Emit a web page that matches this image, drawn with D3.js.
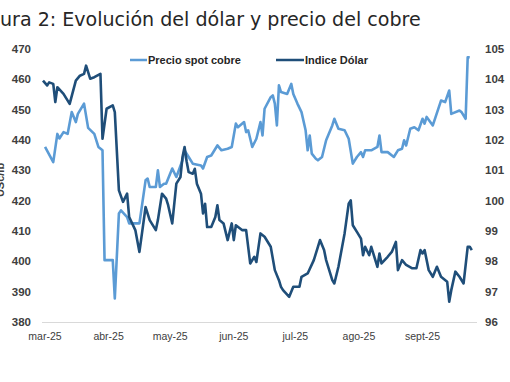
<!DOCTYPE html>
<html><head><meta charset="utf-8">
<script src="https://cdn.jsdelivr.net/npm/d3@7"></script>
<style>html,body{margin:0;padding:0;background:#fff;overflow:hidden}</style>
</head><body>
<svg id="c" width="510" height="382"></svg>
<script>
const titleText = "Figura 2: Evolución del dólar y precio del cobre";
const seriesNames = ["Precio spot cobre", "Indice Dólar"];
const monthTicks = ["2025-03-01","2025-04-01","2025-05-01","2025-06-01","2025-07-01","2025-08-01","2025-09-01"];
const monthLabels = ["mar-25","abr-25","may-25","jun-25","jul-25","ago-25","sept-25"];
const leftTicks = [380,390,400,410,420,430,440,450,460,470];
const rightTicks = [96,97,98,99,100,101,102,103,104,105];

const copperDates = ["03-02","03-06","03-08","03-09","03-11","03-13","03-15","03-17","03-18","03-21","03-23","03-26","03-28","03-30","03-31",
"04-04","04-05","04-07","04-08","04-11","04-12","04-17","04-20","04-21","04-22","04-25","04-26","04-27","04-29","04-30",
"05-03","05-05","05-08","05-09","05-11","05-13","05-17","05-18","05-20","05-22","05-25","05-27","05-30",
"06-01","06-03","06-04","06-07","06-08","06-09","06-11","06-13","06-15","06-16","06-17","06-20","06-21","06-22","06-23","06-24","06-25","06-28","06-30",
"07-01","07-03","07-05","07-07","07-08","07-09","07-10","07-12","07-13","07-15","07-17","07-20","07-21","07-23","07-26","07-28","07-30",
"08-01","08-03","08-04","08-05","08-08","08-11","08-12","08-13","08-16","08-19","08-21","08-23","08-24","08-25","08-27","08-29","08-31",
"09-02","09-03","09-04","09-07","09-11","09-13","09-15","09-16","09-20","09-21","09-23","09-24","09-25"];
const copperValues = [437.7,432.7,442,440.5,442.6,442,449.2,445.9,448.6,452,444,442,437.7,436.6,400.4,
400.4,387.8,415.8,416.8,414.6,412.5,412.5,426.7,427.3,424.5,424.5,430,424.5,425.6,425.6,
430.6,427.8,433.3,436.6,434.4,432.2,431.6,430.6,434.4,434.9,438.2,436.6,437.1,
437.7,445.4,444.2,445.9,442.6,443.2,437.7,440.4,445.9,441.5,450.3,454.1,454.7,452,444.8,458,455.8,455.2,458.5,
455.2,452,449.2,443.2,436.6,441.5,435.5,433.8,433.3,434.4,439.9,444.8,447,443.7,443.2,440.4,432.2,
434.4,436,434.4,436.6,436.6,437.7,441.5,436,436,434.4,436.6,437.1,439.9,438.2,443.7,444.2,443.2,
447,445.4,447.6,444.8,453,452.5,456.3,448.6,449.7,449.2,447,467.3,467.3];

const dollarDates = ["03-01","03-03","03-04","03-06","03-07","03-08","03-11","03-14","03-17","03-19","03-21","03-22","03-24","03-26","03-29","03-30",
"04-01","04-04","04-05","04-07","04-09","04-11","04-12","04-15","04-17","04-20","04-22","04-25","04-26","04-28","04-30",
"05-01","05-03","05-05","05-07","05-08","05-09","05-10","05-11","05-13","05-14","05-15","05-17","05-18","05-19","05-20","05-22","05-24","05-25","05-26","05-28","05-30",
"06-01","06-02","06-03","06-06","06-08","06-10","06-12","06-13","06-15","06-17","06-20","06-22","06-24","06-25","06-26","06-29",
"07-01","07-04","07-05","07-08","07-11","07-13","07-14","07-16","07-17","07-20","07-21","07-23","07-26","07-28","07-29","07-30",
"08-01","08-03","08-04","08-05","08-07","08-08","08-11","08-12","08-13","08-16","08-18","08-20","08-21","08-23","08-25","08-28","08-30",
"09-01","09-02","09-03","09-05","09-07","09-09","09-11","09-14","09-15","09-16","09-18","09-20","09-22","09-24","09-25","09-26"];
const dollarValues = [103.96,103.8,103.9,103.85,103.25,103.74,103.52,103.19,103.96,104.12,104.18,104.45,104.02,104.07,104.18,102.04,
103.03,103.14,102.92,100.34,99.96,100.23,99.46,99.03,98.31,99.79,99.36,99.03,99.36,100.23,100.07,
99.85,99.25,100.56,100.78,101.44,101.77,101.3,100.94,100.89,101.05,100.56,100.23,99.58,99.9,99.13,99.13,99.46,99.85,99.36,99.25,98.7,
99.25,98.7,99.19,99.03,99.03,97.93,98.15,97.98,98.92,98.81,98.48,97.71,97.38,97.16,97.05,96.83,
97.16,97.16,97.49,97.6,98.04,98.48,98.7,98.37,98.04,97.38,97.27,97.82,98.92,99.9,100.01,99.19,
98.97,98.75,98.2,98.48,98.2,98.48,97.82,98.26,97.93,98.15,98.31,98.64,97.71,98.04,97.88,97.77,97.77,
98.37,98.26,98.37,97.71,97.49,97.82,97.49,97.33,96.67,97.05,97.66,97.49,97.27,98.48,98.48,98.37];

const colors = ["#5b9bd5", "#1f4e79"];
const parse = d3.timeParse("%Y-%m-%d");
const svg = d3.select("#c");

const x = d3.scaleTime().domain([parse("2025-03-01"), parse("2025-09-30")]).range([43, 480]);
const yL = d3.scaleLinear().domain([380, 470]).range([322, 49]);
const yR = d3.scaleLinear().domain([96, 105]).range([322, 49]);

// title (cut at left edge like the reference)
const tt = svg.append("text").attr("y", 26).attr("font-family", "DejaVu Sans").attr("font-size", 17).attr("fill", "#262626").text(titleText);
const probe = svg.append("text").attr("font-family", "DejaVu Sans").attr("font-size", 17).text("Fig");
const full = tt.node().getComputedTextLength();
const fig = probe.node().getComputedTextLength();
const fs = 17 * 421 / (full - fig);
tt.attr("font-size", fs);
probe.attr("font-size", fs);
const off = probe.node().getComputedTextLength();
probe.remove();
tt.attr("x", -off);

// baseline
svg.append("line").attr("x1", 42).attr("x2", 477).attr("y1", 322.5).attr("y2", 322.5).attr("stroke", "#d9d9d9").attr("stroke-width", 1);

// left axis labels
svg.append("g").selectAll("text").data(leftTicks).join("text")
  .attr("x", 31).attr("y", d => yL(d)).attr("dy", "0.35em").attr("text-anchor", "end")
  .attr("font-family", "Liberation Sans").attr("font-weight", "bold").attr("font-size", 11.5).attr("fill", "#404040")
  .text(d => d);
// right axis labels
svg.append("g").selectAll("text").data(rightTicks).join("text")
  .attr("x", 485).attr("y", d => yR(d)).attr("dy", "0.35em").attr("text-anchor", "start")
  .attr("font-family", "Liberation Sans").attr("font-weight", "bold").attr("font-size", 11.5).attr("fill", "#404040")
  .text(d => d);
// x labels
svg.append("g").selectAll("text").data(monthTicks).join("text")
  .attr("x", d => x(parse(d)) + 2).attr("y", 340).attr("text-anchor", "middle")
  .attr("font-family", "Liberation Sans").attr("font-size", 10.5).attr("fill", "#404040")
  .text((d, i) => monthLabels[i]);

// rotated axis title, mostly cut at the left edge as in the reference
svg.append("text").attr("transform", "translate(4,180) rotate(-90)").attr("text-anchor", "middle")
  .attr("font-family", "Liberation Sans").attr("font-weight", "bold").attr("font-size", 11).attr("fill", "#404040")
  .text("USc/lb");

// lines
const copper = copperDates.map((d, i) => ({ date: parse("2025-" + d), v: copperValues[i] }));
const dollar = dollarDates.map((d, i) => ({ date: parse("2025-" + d), v: dollarValues[i] }));
svg.append("path").datum(copper).attr("fill", "none").attr("stroke", colors[0]).attr("stroke-width", 2.6).attr("stroke-linejoin", "round")
  .attr("d", d3.line().x(d => x(d.date)).y(d => yL(d.v)));
svg.append("path").datum(dollar).attr("fill", "none").attr("stroke", colors[1]).attr("stroke-width", 2.6).attr("stroke-linejoin", "round")
  .attr("d", d3.line().x(d => x(d.date)).y(d => yR(d.v)));

// legend
const leg = [{ x1: 130, x2: 147, tx: 148 }, { x1: 276, x2: 304, tx: 305 }];
leg.forEach((l, i) => {
  svg.append("line").attr("x1", l.x1).attr("x2", l.x2).attr("y1", 60).attr("y2", 60).attr("stroke", colors[i]).attr("stroke-width", 2.5);
  svg.append("text").attr("x", l.tx).attr("y", 64).attr("font-family", "Liberation Sans").attr("font-weight", "bold")
    .attr("font-size", 11).attr("fill", "#262626").text(seriesNames[i]);
});
</script>
</body></html>
